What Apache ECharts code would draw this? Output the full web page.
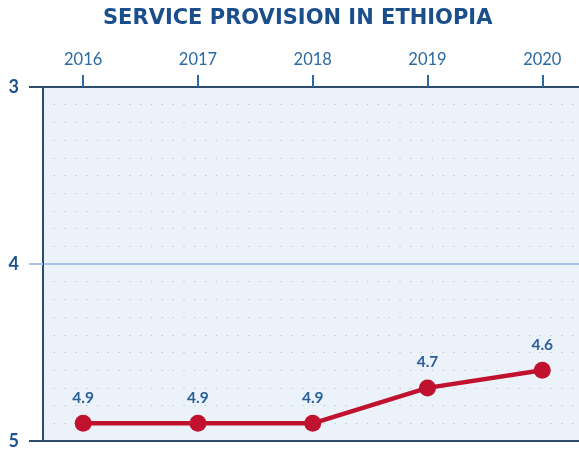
<!DOCTYPE html>
<html>
<head>
<meta charset="utf-8">
<script src="https://cdn.jsdelivr.net/npm/echarts@6/dist/echarts.min.js"></script>
<style>html,body{margin:0;padding:0;background:#fff}#c{width:579px;height:451px}</style>
</head>
<body>
<div id="c"></div>
<script>
const title = 'SERVICE PROVISION IN ETHIOPIA';
const years = [2016, 2017, 2018, 2019, 2020];
const values = [4.9, 4.9, 4.9, 4.7, 4.6];
const yTicks = [3, 4, 5];

const chart = echarts.init(document.getElementById('c'), null, {renderer: 'canvas'});
const darkLine = '#2e4d6b';
const lightBlue = '#a7c5e4';
const xMin = 2015.65, xMax = 2020.32;
chart.setOption({
  animation: false,
  title: {
    text: title, left: 103, top: 8, padding: 0,
    textStyle: {fontFamily: 'DejaVu Sans', fontWeight: 'bold', fontSize: 21, color: '#1b4f8c'}
  },
  grid: {left: 43, top: 87, right: 0, bottom: 10, show: true, borderWidth: 0, backgroundColor: '#ebf2fa'},
  xAxis: [{
    type: 'value', position: 'top', min: xMin, max: xMax,
    axisLine: {show: true, lineStyle: {color: darkLine, width: 2}},
    axisTick: {show: true, customValues: years, length: 12, lineStyle: {color: '#2b6aa3', width: 2}},
    axisLabel: {customValues: years, margin: 19, fontFamily: 'Lato', fontSize: 16.5, color: '#2b6aa3', formatter: v => String(v)},
    splitLine: {show: false}
  }, {
    type: 'value', position: 'bottom', min: xMin, max: xMax,
    axisLine: {show: true, onZero: false, lineStyle: {color: darkLine, width: 2}},
    axisTick: {show: false}, axisLabel: {show: false}, splitLine: {show: false}
  }],
  yAxis: [{
    type: 'value', inverse: true, min: 3, max: 5, interval: 1,
    axisLine: {show: true, lineStyle: {color: darkLine, width: 2}},
    axisTick: {show: true, length: 14, lineStyle: {color: lightBlue, width: 2}},
    axisLabel: {margin: 24, fontFamily: 'Lato', fontWeight: 'bold', fontSize: 18, color: '#1d5290'},
    splitLine: {show: true, lineStyle: {color: lightBlue, width: 2}},
    minorTick: {show: false, splitNumber: 10},
    minorSplitLine: {show: true, lineStyle: {color: '#b9c3ce', width: 1.2, type: [1.2, 9.6]}}
  }, {
    type: 'value', inverse: true, min: 3, max: 5, interval: 2, position: 'left',
    axisLine: {show: false},
    axisTick: {show: true, length: 14, lineStyle: {color: darkLine, width: 2}},
    axisLabel: {show: false}, splitLine: {show: false}
  }],
  series: [{
    type: 'line',
    data: years.map((y, i) => [y, values[i]]),
    lineStyle: {color: '#c0122f', width: 4.5},
    itemStyle: {color: '#c0122f'},
    symbol: 'circle', symbolSize: 17,
    label: {show: true, position: 'top', distance: 9, fontFamily: 'Lato', fontWeight: 'bold', fontSize: 15.5, color: '#2a5f98',
      formatter: p => p.value[1].toFixed(1)},
    z: 5
  }]
});
</script>
</body>
</html>
